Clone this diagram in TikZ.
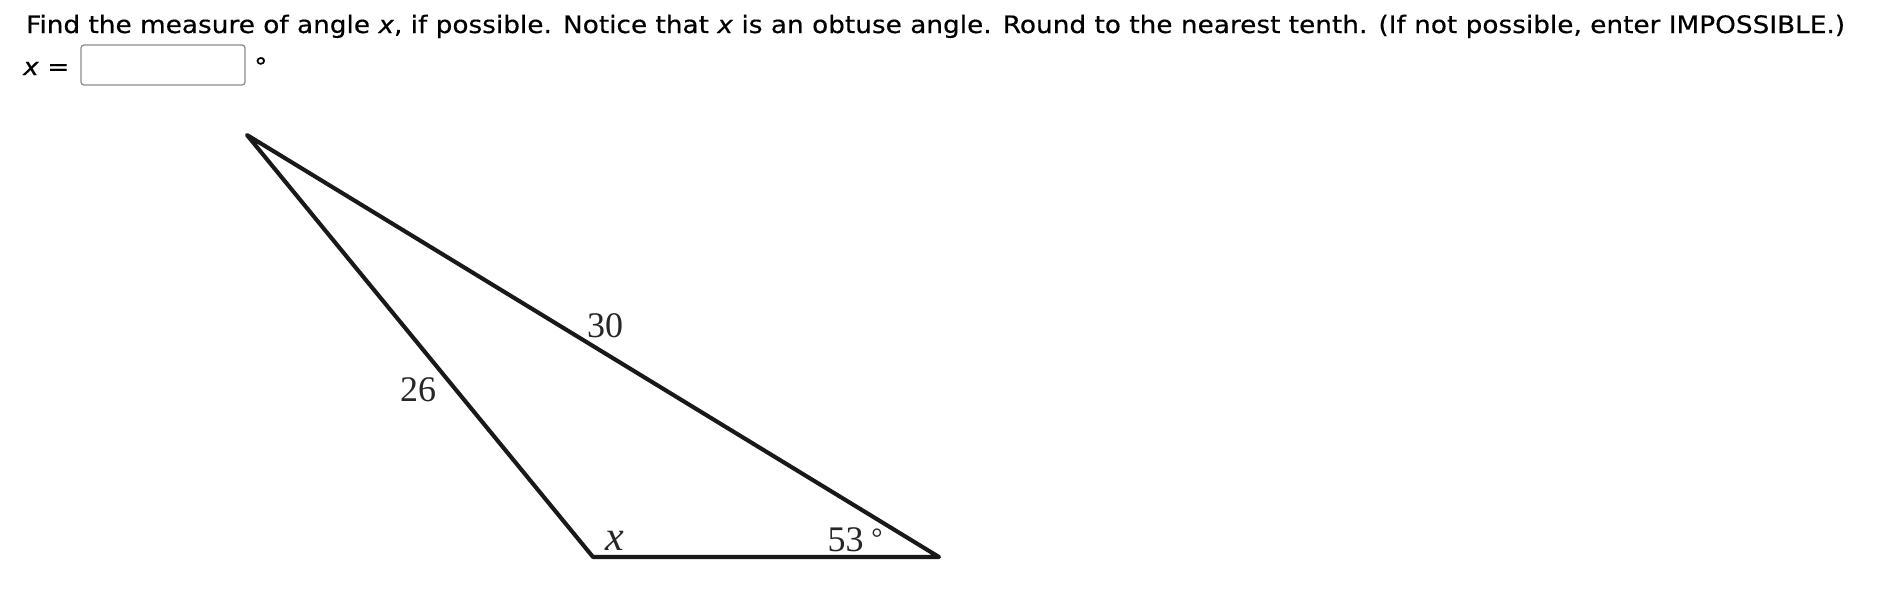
\documentclass[tikz,border=0pt]{standalone}
\usepackage{fontspec}
\setmainfont{DejaVu Sans}[FakeStretch=1.097, FakeBold=0.4]
\newfontfamily\figfont{Liberation Serif}
\begin{document}
\begin{tikzpicture}[x=1pt,y=-1pt,
  qtext/.style={anchor=base west, inner sep=0pt, font=\fontsize{24}{28}\selectfont},
  figlabel/.style={inner sep=0pt, font=\figfont\fontsize{36}{40}\selectfont, text=black!85},
  edge/.style={line width=4.1pt, draw=black!90, line cap=round, line join=round}]
\useasboundingbox (0,0) rectangle (1892,592);
\node[qtext] (q) at (26,33) {Find the measure of angle \textit{x}, if possible. Notice that \textit{x} is an obtuse angle. Round to the nearest tenth. (If not possible, enter IMPOSSIBLE.)};
\node[qtext] (xeq) at (23,75) {\textit{x} =};
\node[draw=black!45, line width=1.3pt, rounded corners=3pt, minimum width=164pt, minimum height=40pt, inner sep=0pt] (box) at (163,65) {};
\node[qtext] (deg) at (254,75) {°};
\coordinate (A) at (247,135);
\coordinate (B) at (593,557);
\coordinate (C) at (939,557);
\draw[edge] (A) -- (B) -- (C) -- cycle;
\node[figlabel] (l30) at (605,326) {30};
\node[figlabel] (l26) at (418,390) {26};
\node[figlabel] (l53) at (845.5,540) {53};
\node[figlabel, font=\figfont\fontsize{28}{30}\selectfont] (l53d) at (877,538) {°};
\node[figlabel, font=\figfont\itshape\fontsize{42}{44}\selectfont] (lx) at (615,541) {x};
\end{tikzpicture}
\end{document}
